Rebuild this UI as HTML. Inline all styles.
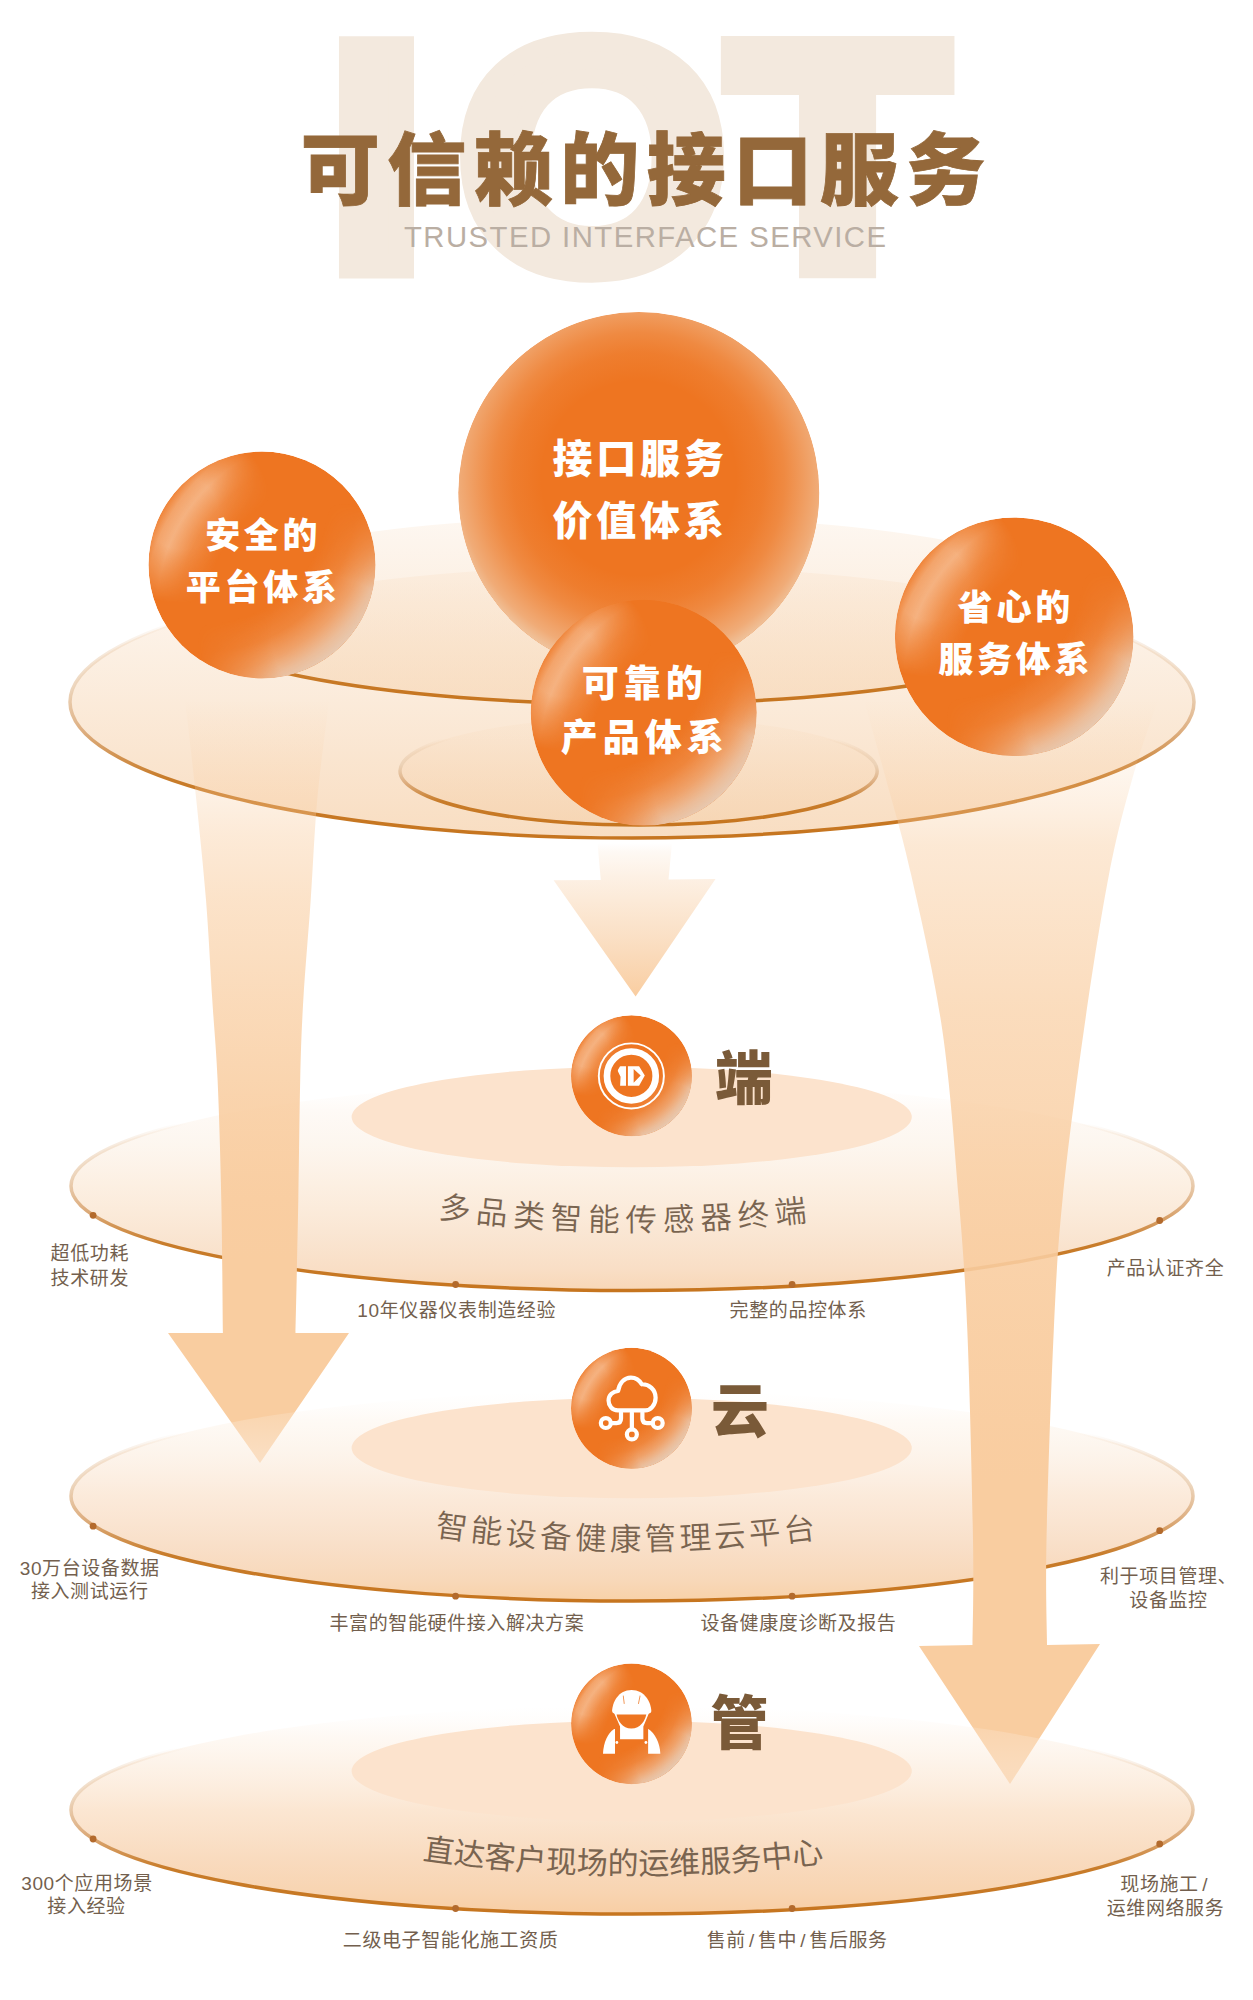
<!DOCTYPE html>
<html lang="zh-CN"><head><meta charset="utf-8"><title>可信赖的接口服务</title>
<style>
html,body{margin:0;padding:0;background:#fff;}
body{width:1253px;height:2000px;overflow:hidden;}
svg{display:block;}
</style></head><body>
<svg width="1253" height="2000" viewBox="0 0 1253 2000">
<defs>
<clipPath id="clipB0"><circle cx="638.8" cy="492.6" r="180.5"/></clipPath>
<clipPath id="clipB1"><circle cx="262" cy="565" r="113.5"/></clipPath>
<clipPath id="clipB2"><circle cx="1014.2" cy="636.7" r="119.3"/></clipPath>
<clipPath id="clipB3"><circle cx="643.7" cy="712.8" r="113"/></clipPath>
<clipPath id="clipI1"><circle cx="631.5" cy="1075.8" r="60.5"/></clipPath>
<clipPath id="clipI2"><circle cx="631.5" cy="1408.3" r="60.5"/></clipPath>
<clipPath id="clipI3"><circle cx="631.5" cy="1723.8" r="60.4"/></clipPath>

<radialGradient id="bigHalo" cx="0.5" cy="0.46" r="0.56" fx="0.5" fy="0.46">
 <stop offset="0" stop-color="#f3dcc4" stop-opacity="0"/>
 <stop offset="0.48" stop-color="#f3dcc4" stop-opacity="0"/>
 <stop offset="0.62" stop-color="#f3dcc4" stop-opacity="0.08"/>
 <stop offset="0.72" stop-color="#f3dcc4" stop-opacity="0.20"/>
 <stop offset="0.80" stop-color="#f3dcc4" stop-opacity="0.35"/>
 <stop offset="0.89" stop-color="#f2dac1" stop-opacity="0.54"/>
 <stop offset="0.97" stop-color="#efd6ba" stop-opacity="0.86"/>
</radialGradient>
<radialGradient id="hlBR" cx="0.26" cy="0.23" r="0.90" fx="0.26" fy="0.23">
 <stop offset="0" stop-color="#f6e0cc" stop-opacity="0"/>
 <stop offset="0.58" stop-color="#f6e0cc" stop-opacity="0"/>
 <stop offset="0.72" stop-color="#f6e0cc" stop-opacity="0.16"/>
 <stop offset="0.82" stop-color="#f1dbc7" stop-opacity="0.44"/>
 <stop offset="0.90" stop-color="#ead6c4" stop-opacity="0.74"/>
 <stop offset="0.96" stop-color="#e6d3c2" stop-opacity="0.90"/>
</radialGradient>
<radialGradient id="hlTL" cx="0.802" cy="0.696" r="0.90" fx="0.802" fy="0.696">
 <stop offset="0" stop-color="#fbe6d2" stop-opacity="0"/>
 <stop offset="0.60" stop-color="#fbe6d2" stop-opacity="0"/>
 <stop offset="0.74" stop-color="#fbe6d2" stop-opacity="0.22"/>
 <stop offset="0.85" stop-color="#fbe6d2" stop-opacity="0.54"/>
 <stop offset="0.91" stop-color="#fbe6d2" stop-opacity="0.42"/>
 <stop offset="0.96" stop-color="#fbe6d2" stop-opacity="0.10"/>
</radialGradient>
<radialGradient id="mgTL" cx="0.148" cy="0.271" r="0.40" gradientUnits="objectBoundingBox">
 <stop offset="0" stop-color="#fff" stop-opacity="1"/>
 <stop offset="0.40" stop-color="#fff" stop-opacity="1"/>
 <stop offset="1" stop-color="#fff" stop-opacity="0"/>
</radialGradient>
<radialGradient id="mgBR" cx="0.813" cy="0.824" r="0.60" gradientUnits="objectBoundingBox">
 <stop offset="0" stop-color="#fff" stop-opacity="1"/>
 <stop offset="0.45" stop-color="#fff" stop-opacity="1"/>
 <stop offset="1" stop-color="#fff" stop-opacity="0"/>
</radialGradient>
<mask id="mTL" maskContentUnits="objectBoundingBox" x="0" y="0" width="1" height="1"><rect x="0" y="0" width="1" height="1" fill="url(#mgTL)"/></mask>
<mask id="mBR" maskContentUnits="objectBoundingBox" x="0" y="0" width="1" height="1"><rect x="0" y="0" width="1" height="1" fill="url(#mgBR)"/></mask>
<linearGradient id="discFillTop" x1="0" y1="0" x2="0" y2="1">
 <stop offset="0" stop-color="#f7d6b4" stop-opacity="0.17"/>
 <stop offset="1" stop-color="#f7d6b4" stop-opacity="0.82"/>
</linearGradient>
<linearGradient id="discFillMid" x1="0" y1="0" x2="0" y2="1">
 <stop offset="0" stop-color="#f7d6b4" stop-opacity="0.18"/>
 <stop offset="1" stop-color="#f7d6b4" stop-opacity="0.64"/>
</linearGradient>
<linearGradient id="discFillIn" x1="0" y1="0" x2="0" y2="1">
 <stop offset="0" stop-color="#f7d6b4" stop-opacity="0.10"/>
 <stop offset="1" stop-color="#f5d0aa" stop-opacity="0.60"/>
</linearGradient>
<linearGradient id="discFill1" x1="0" y1="0" x2="0" y2="1">
 <stop offset="0" stop-color="#fdf7f1" stop-opacity="0"/>
 <stop offset="0.14" stop-color="#fceee1" stop-opacity="0.3"/>
 <stop offset="0.3" stop-color="#fbefe2" stop-opacity="0.55"/>
 <stop offset="0.5" stop-color="#fbead8" stop-opacity="0.75"/>
 <stop offset="0.75" stop-color="#f9e2cc" stop-opacity="0.9"/>
 <stop offset="0.9" stop-color="#f9dec5" stop-opacity="1"/>
 <stop offset="1" stop-color="#f8d7b7" stop-opacity="1"/>
</linearGradient>
<linearGradient id="discFill2" x1="0" y1="0" x2="0" y2="1">
 <stop offset="0" stop-color="#fdf7f1" stop-opacity="0"/>
 <stop offset="0.14" stop-color="#fceede" stop-opacity="0.3"/>
 <stop offset="0.3" stop-color="#fbebdb" stop-opacity="0.55"/>
 <stop offset="0.5" stop-color="#fae3ce" stop-opacity="0.75"/>
 <stop offset="0.75" stop-color="#f8dbc1" stop-opacity="0.9"/>
 <stop offset="0.9" stop-color="#f8d8b9" stop-opacity="1"/>
 <stop offset="1" stop-color="#f8d1a8" stop-opacity="1"/>
</linearGradient>
<linearGradient id="discFill3" x1="0" y1="0" x2="0" y2="1">
 <stop offset="0" stop-color="#fdf7f1" stop-opacity="0"/>
 <stop offset="0.14" stop-color="#fcebda" stop-opacity="0.3"/>
 <stop offset="0.3" stop-color="#fbe7d3" stop-opacity="0.55"/>
 <stop offset="0.5" stop-color="#fadec3" stop-opacity="0.75"/>
 <stop offset="0.75" stop-color="#f8d6b6" stop-opacity="0.9"/>
 <stop offset="0.9" stop-color="#f8d4b1" stop-opacity="1"/>
 <stop offset="1" stop-color="#f8cea4" stop-opacity="1"/>
</linearGradient>
<linearGradient id="discStroke" x1="0" y1="0" x2="0" y2="1">
 <stop offset="0" stop-color="#e8c39f" stop-opacity="0"/>
 <stop offset="0.20" stop-color="#e8c39f" stop-opacity="0"/>
 <stop offset="0.44" stop-color="#ead0b4" stop-opacity="0.85"/>
 <stop offset="0.60" stop-color="#deb083" stop-opacity="1"/>
 <stop offset="0.78" stop-color="#c87c2a" stop-opacity="1"/>
 <stop offset="1" stop-color="#c6751f" stop-opacity="1"/>
</linearGradient>
<linearGradient id="arrL" gradientUnits="userSpaceOnUse" x1="0" y1="700" x2="0" y2="1260">
 <stop offset="0.0000" stop-color="#f9cda0" stop-opacity="0"/>
 <stop offset="0.0268" stop-color="#f9cda0" stop-opacity="0.05"/>
 <stop offset="0.1071" stop-color="#f9cda0" stop-opacity="0.17"/>
 <stop offset="0.1786" stop-color="#f9cda0" stop-opacity="0.3"/>
 <stop offset="0.2411" stop-color="#f9cda0" stop-opacity="0.42"/>
 <stop offset="0.3571" stop-color="#f9cda0" stop-opacity="0.57"/>
 <stop offset="0.5357" stop-color="#f9cda0" stop-opacity="0.73"/>
 <stop offset="0.7143" stop-color="#f9cda0" stop-opacity="0.87"/>
 <stop offset="0.8929" stop-color="#f9cda0" stop-opacity="0.97"/>
 <stop offset="1.0000" stop-color="#f9cda0" stop-opacity="1"/>
</linearGradient>
<linearGradient id="arrR" gradientUnits="userSpaceOnUse" x1="0" y1="700" x2="0" y2="1480">
 <stop offset="0.0000" stop-color="#f9cda0" stop-opacity="0"/>
 <stop offset="0.0256" stop-color="#f9cda0" stop-opacity="0.05"/>
 <stop offset="0.0897" stop-color="#f9cda0" stop-opacity="0.18"/>
 <stop offset="0.1474" stop-color="#f9cda0" stop-opacity="0.33"/>
 <stop offset="0.1859" stop-color="#f9cda0" stop-opacity="0.45"/>
 <stop offset="0.3987" stop-color="#f9cda0" stop-opacity="0.7"/>
 <stop offset="0.6769" stop-color="#f9cda0" stop-opacity="0.88"/>
 <stop offset="0.8974" stop-color="#f9cda0" stop-opacity="0.97"/>
 <stop offset="1.0000" stop-color="#f9cda0" stop-opacity="1"/>
</linearGradient>
<linearGradient id="arrC" gradientUnits="userSpaceOnUse" x1="0" y1="843" x2="0" y2="997">
 <stop offset="0" stop-color="#f8cfa6" stop-opacity="0"/>
 <stop offset="0.06" stop-color="#f8cfa6" stop-opacity="0.13"/>
 <stop offset="0.24" stop-color="#f8cfa6" stop-opacity="0.32"/>
 <stop offset="0.6" stop-color="#f8cfa6" stop-opacity="0.64"/>
 <stop offset="1" stop-color="#f9cda0" stop-opacity="1"/>
</linearGradient>
<path id="tp1" d="M 380 1208.5 Q 623.5 1251.4 867 1212.8"/>
<path id="tp2" d="M 380 1526.9 Q 625.0 1571.8 870 1530.4"/>
<path id="tp3" d="M 370 1851.0 Q 624.5 1896.2 879 1854.4"/>
</defs>

<rect width="1253" height="2000" fill="#fff"/>
<g fill="#F3E9DE" stroke="#F3E9DE" stroke-linejoin="miter" font-family='"Liberation Sans",sans-serif' font-weight="700" font-size="300">
<text stroke-width="22.5" transform="translate(328.9,266.6) scale(1.1416,1.0585)">I</text>
<text stroke-width="18" transform="translate(456.2,269.7) scale(1.1656,1.0894)">O</text>
<text stroke-width="22.5" transform="translate(730.1,266.3) scale(1.173,1.0585)">T</text>
</g>
<text id="title" x="300.8" y="198.9" font-family='"Liberation Sans","Noto Sans CJK SC",sans-serif' font-weight="900" font-size="79" letter-spacing="7.5" fill="#94683A" stroke="#94683A" stroke-width="0.8">可信赖的接口服务</text>
<text id="entitle" x="404" y="246.5" font-family='"Liberation Sans",sans-serif' font-size="29.3" fill="#BAAEA3" textLength="482" lengthAdjust="spacing">TRUSTED INTERFACE SERVICE</text>
<ellipse cx="632" cy="702" rx="562" ry="136" fill="url(#discFillTop)" stroke="url(#discStroke)" stroke-width="3.5"/>
<ellipse cx="632" cy="610" rx="467" ry="94" fill="url(#discFillMid)" stroke="url(#discStroke)" stroke-width="3.5"/>
<ellipse cx="638.6" cy="771" rx="238.6" ry="54" fill="url(#discFillIn)" stroke="url(#discStroke)" stroke-width="3.5"/>
<path d="M597.5 843 L672 843 L668.5 879.5 L715.5 879 L635.6 996.6 L553.6 880.2 L600.8 880 Z" fill="url(#arrC)"/>
<ellipse cx="632" cy="1186" rx="561" ry="104.5" fill="url(#discFill1)" stroke="url(#discStroke)" stroke-width="3.5"/>
<ellipse cx="631.7" cy="1117" rx="280.1" ry="50.3" fill="#FCE3CD"/>
<path d="M184.5 700 C184.9 702.5 184.8 698.3 186.8 715 C188.8 731.7 193.1 769.2 196.3 800 C199.5 830.8 203.3 866.7 206 900 C208.7 933.3 210.4 970.0 212.3 1000 C214.2 1030.0 216.1 1046.7 217.6 1080 C219.1 1113.3 220.4 1157.8 221.3 1200 C222.2 1242.2 222.6 1310.8 222.9 1333 L168 1333 L260 1463 L349 1333 L295.5 1333 C296.0 1310.8 297.5 1242.2 298.3 1200 C299.1 1157.8 299.4 1113.3 300.2 1080 C301.0 1046.7 301.6 1030.0 303.3 1000 C305.1 970.0 308.4 933.3 310.7 900 C313.0 866.7 314.4 830.8 317.2 800 C320.0 769.2 325.2 731.7 327.3 715 C329.4 698.3 329.1 702.5 329.5 700 Z" fill="url(#arrL)"/>
<ellipse cx="632" cy="1496" rx="561" ry="105" fill="url(#discFill2)" stroke="url(#discStroke)" stroke-width="3.5"/>
<ellipse cx="631.7" cy="1448" rx="280.1" ry="50.3" fill="#FCE3CD"/>
<path d="M864 700 C867.7 713.3 878.3 750.8 886.2 780 C894.1 809.2 901.9 833.3 911.2 875 C920.6 916.7 934.4 975.8 942.3 1030 C950.2 1084.2 954.6 1150.0 958.8 1200 C963.0 1250.0 964.9 1273.3 967.3 1330 C969.7 1386.7 972.1 1487.5 973 1540 C973.9 1592.5 972.6 1627.5 972.5 1645 L919 1646 L1010 1784 L1100 1644 L1047 1645 C1046.9 1627.5 1045.4 1592.5 1046.5 1540 C1047.6 1487.5 1051.1 1386.7 1053.8 1330 C1056.5 1273.3 1057.5 1250.0 1062.5 1200 C1067.5 1150.0 1076.2 1084.2 1083.9 1030 C1091.6 975.8 1100.8 917.0 1108.9 875 C1117.0 833.0 1124.3 807.2 1132.5 778 C1140.7 748.8 1153.8 713.0 1158 700 Z" fill="url(#arrR)"/>
<ellipse cx="632" cy="1810" rx="561" ry="104" fill="url(#discFill3)" stroke="url(#discStroke)" stroke-width="3.5"/>
<ellipse cx="631.7" cy="1771" rx="280.1" ry="50.3" fill="#FCE3CD"/>
<circle cx="93.1" cy="1215.3" r="3.4" fill="#B36A2C"/><circle cx="455.6" cy="1284.5" r="3.4" fill="#B36A2C"/><circle cx="792.1" cy="1284.5" r="3.4" fill="#B36A2C"/><circle cx="1159.7" cy="1220.5" r="3.4" fill="#B36A2C"/><circle cx="93.1" cy="1526.2" r="3.4" fill="#B36A2C"/><circle cx="455.6" cy="1596.2" r="3.4" fill="#B36A2C"/><circle cx="792.1" cy="1596.2" r="3.4" fill="#B36A2C"/><circle cx="1159.7" cy="1530.7" r="3.4" fill="#B36A2C"/><circle cx="93.1" cy="1839" r="3.4" fill="#B36A2C"/><circle cx="455.6" cy="1908.5" r="3.4" fill="#B36A2C"/><circle cx="792.1" cy="1908.5" r="3.4" fill="#B36A2C"/><circle cx="1159.7" cy="1844" r="3.4" fill="#B36A2C"/>
<g clip-path="url(#clipB0)"><circle cx="638.8" cy="492.6" r="180.5" fill="#EE7521"/><circle cx="638.8" cy="492.6" r="180.5" fill="url(#bigHalo)"/></g>
<g clip-path="url(#clipB1)"><circle cx="262" cy="565" r="113.5" fill="#EE7521"/><circle cx="262" cy="565" r="113.5" fill="url(#hlBR)" mask="url(#mBR)"/><circle cx="262" cy="565" r="113.5" fill="url(#hlTL)" mask="url(#mTL)"/></g>
<g clip-path="url(#clipB2)"><circle cx="1014.2" cy="636.7" r="119.3" fill="#EE7521"/><circle cx="1014.2" cy="636.7" r="119.3" fill="url(#hlBR)" mask="url(#mBR)"/><circle cx="1014.2" cy="636.7" r="119.3" fill="url(#hlTL)" mask="url(#mTL)"/></g>
<g clip-path="url(#clipB3)"><circle cx="643.7" cy="712.8" r="113" fill="#EE7521"/><circle cx="643.7" cy="712.8" r="113" fill="url(#hlBR)" mask="url(#mBR)"/><circle cx="643.7" cy="712.8" r="113" fill="url(#hlTL)" mask="url(#mTL)"/></g>
<g clip-path="url(#clipI1)"><circle cx="631.5" cy="1075.8" r="60.5" fill="#EE7521"/><circle cx="631.5" cy="1075.8" r="60.5" fill="url(#hlBR)" mask="url(#mBR)"/><circle cx="631.5" cy="1075.8" r="60.5" fill="url(#hlTL)" mask="url(#mTL)"/></g>
<g clip-path="url(#clipI2)"><circle cx="631.5" cy="1408.3" r="60.5" fill="#EE7521"/><circle cx="631.5" cy="1408.3" r="60.5" fill="url(#hlBR)" mask="url(#mBR)"/><circle cx="631.5" cy="1408.3" r="60.5" fill="url(#hlTL)" mask="url(#mTL)"/></g>
<g clip-path="url(#clipI3)"><circle cx="631.5" cy="1723.8" r="60.4" fill="#EE7521"/><circle cx="631.5" cy="1723.8" r="60.4" fill="url(#hlBR)" mask="url(#mBR)"/><circle cx="631.5" cy="1723.8" r="60.4" fill="url(#hlTL)" mask="url(#mTL)"/></g>
<g font-family='"Liberation Sans","Noto Sans CJK SC",sans-serif'>
<text x="640.1" y="473" font-size="40" letter-spacing="3.8" fill="#fff" font-weight="900" text-anchor="middle" >接口服务</text>
<text x="640.1" y="535" font-size="40" letter-spacing="3.8" fill="#fff" font-weight="900" text-anchor="middle" >价值体系</text>
<text x="263.2" y="548" font-size="35" letter-spacing="3.7" fill="#fff" font-weight="900" text-anchor="middle" >安全的</text>
<text x="263.2" y="600" font-size="35" letter-spacing="3.7" fill="#fff" font-weight="900" text-anchor="middle" >平台体系</text>
<text x="1015.8" y="619.5" font-size="35" letter-spacing="3.8" fill="#fff" font-weight="900" text-anchor="middle" >省心的</text>
<text x="1015.8" y="672" font-size="35" letter-spacing="3.8" fill="#fff" font-weight="900" text-anchor="middle" >服务体系</text>
<text x="644.8" y="696.5" font-size="37" letter-spacing="5.0" fill="#fff" font-weight="900" text-anchor="middle" >可靠的</text>
<text x="644.8" y="750.5" font-size="37" letter-spacing="5.0" fill="#fff" font-weight="900" text-anchor="middle" >产品体系</text>
<text x="744" y="1099" font-size="58" letter-spacing="0" fill="#7A5A38" font-weight="900" text-anchor="middle" >端</text>
<text x="740" y="1431.5" font-size="58" letter-spacing="0" fill="#7A5A38" font-weight="900" text-anchor="middle" >云</text>
<text x="739.5" y="1743.5" font-size="58" letter-spacing="0" fill="#7A5A38" font-weight="900" text-anchor="middle" >管</text>
<text font-size="31.5" letter-spacing="6.15" fill="#796450" font-weight="350" text-anchor="middle"><textPath href="#tp1" startOffset="50.47%">多品类智能传感器终端</textPath></text>
<text font-size="31.5" letter-spacing="3.62" fill="#796450" font-weight="350" text-anchor="middle"><textPath href="#tp2" startOffset="50.5%">智能设备健康管理云平台</textPath></text>
<text font-size="31" letter-spacing="0.0" fill="#796450" font-weight="400" text-anchor="middle"><textPath href="#tp3" startOffset="49.75%">直达客户现场的运维服务中心</textPath></text>
<text x="89.8" y="1260" font-size="19" letter-spacing="0.6" fill="#735F4E" font-weight="400" text-anchor="middle">超低功耗</text>
<text x="89.8" y="1284.5" font-size="19" letter-spacing="0.6" fill="#735F4E" font-weight="400" text-anchor="middle">技术研发</text>
<text x="456.7" y="1317" font-size="19" letter-spacing="0.6" fill="#735F4E" font-weight="400" text-anchor="middle">10年仪器仪表制造经验</text>
<text x="798.2" y="1317" font-size="19" letter-spacing="0.6" fill="#735F4E" font-weight="400" text-anchor="middle">完整的品控体系</text>
<text x="1165.5" y="1274.5" font-size="19" letter-spacing="0.6" fill="#735F4E" font-weight="400" text-anchor="middle">产品认证齐全</text>
<text x="89.7" y="1574.5" font-size="19" letter-spacing="0.6" fill="#735F4E" font-weight="400" text-anchor="middle">30万台设备数据</text>
<text x="89.7" y="1598" font-size="19" letter-spacing="0.6" fill="#735F4E" font-weight="400" text-anchor="middle">接入测试运行</text>
<text x="456.9" y="1629.5" font-size="19" letter-spacing="0.6" fill="#735F4E" font-weight="400" text-anchor="middle">丰富的智能硬件接入解决方案</text>
<text x="798.4" y="1629.5" font-size="19" letter-spacing="0.6" fill="#735F4E" font-weight="400" text-anchor="middle">设备健康度诊断及报告</text>
<text x="1100" y="1583" font-size="19" letter-spacing="0.6" fill="#735F4E" font-weight="400" text-anchor="start">利于项目管理、</text>
<text x="1168.5" y="1607" font-size="19" letter-spacing="0.6" fill="#735F4E" font-weight="400" text-anchor="middle">设备监控</text>
<text x="87" y="1889.5" font-size="19" letter-spacing="0.6" fill="#735F4E" font-weight="400" text-anchor="middle">300个应用场景</text>
<text x="86.5" y="1913" font-size="19" letter-spacing="0.6" fill="#735F4E" font-weight="400" text-anchor="middle">接入经验</text>
<text x="450.6" y="1947" font-size="19" letter-spacing="0.6" fill="#735F4E" font-weight="400" text-anchor="middle">二级电子智能化施工资质</text>
<text x="797.2" y="1947" font-size="19" letter-spacing="0.6" fill="#735F4E" font-weight="400" text-anchor="middle">售前<tspan dx="3.1">/</tspan><tspan dx="3.1">售</tspan>中<tspan dx="3.1">/</tspan><tspan dx="3.1">售</tspan>后服务</text>
<text x="1164.2" y="1891" font-size="19" letter-spacing="0.6" fill="#735F4E" font-weight="400" text-anchor="middle">现场施工<tspan dx="3.5">/</tspan></text>
<text x="1165.5" y="1915" font-size="19" letter-spacing="0.6" fill="#735F4E" font-weight="400" text-anchor="middle">运维网络服务</text>
</g>
<g transform="translate(591,1036) scale(0.063847)" fill="#fff">
<circle cx="632" cy="625" r="510" fill="none" stroke="#fff" stroke-width="30"/>
<circle cx="632" cy="625" r="382" fill="none" stroke="#fff" stroke-width="105"/>
<path d="M463 473 L548 473 L548 778 L456 778 L463 638 L421 553 L421 533 L453 478 Z"/>
<path d="M578 473 L753 473 L843 618 L753 778 L578 778 Z M668 518 L668 733 L778 618 Z" fill-rule="evenodd"/>
</g>
<g transform="translate(591,1368) scale(0.063847)" fill="none" stroke="#fff" stroke-width="66" stroke-linecap="round" stroke-linejoin="round">
<path d="M420 665 C330 665 275 590 275 510 C275 420 345 365 425 360 C440 240 520 150 625 150 C700 150 760 190 795 255 C910 250 1012 340 1012 465 C1012 580 930 665 850 665 Z"/>
<path d="M640 700 L640 960"/>
<path d="M470 700 L470 790 Q470 862 400 862 L312 862"/>
<path d="M805 700 L805 790 Q805 862 875 862 L965 862"/>
<circle cx="232" cy="862" r="78"/>
<circle cx="1045" cy="862" r="78"/>
<circle cx="640" cy="1040" r="78"/>
</g>
<g transform="translate(591,1683) scale(0.063847)" fill="#fff">
<path d="M362 470 L455 680 L455 880 L820 880 L820 680 L908 470 Z"/>
<path d="M400 492 L866 492 C846 590 775 712 632 712 C490 712 420 590 400 492 Z" fill="#EE7521"/>
<path d="M330 440 C335 300 430 108 635 108 C840 108 940 300 945 440 Q945 475 900 480 L372 480 Q330 475 330 440 Z"/>
<path d="M498 200 L512 196 L528 325 L514 328 Z M762 196 L776 200 L750 328 L736 325 Z" fill="#EE7521" opacity="0.8"/>
<path d="M362 722 C262 790 195 930 188 1110 L376 1110 L376 722 Z"/>
<path d="M898 722 C1000 790 1078 930 1086 1110 L895 1110 L895 722 Z"/>
<circle cx="405" cy="932" r="22"/><circle cx="860" cy="932" r="22"/>
</g>

</svg>
</body></html>
